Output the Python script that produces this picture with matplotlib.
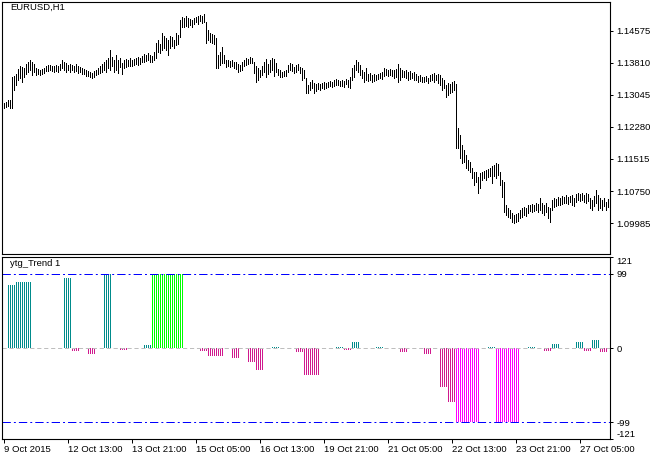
import matplotlib
matplotlib.use("Agg")
import matplotlib.pyplot as plt
import numpy as np

plt.rcParams['font.family'] = ['Liberation Sans', 'DejaVu Sans']
plt.rcParams['lines.scale_dashes'] = False

# EURUSD H1 bars (high / low), first bar 9 Oct 2015 05:00
highs = [
    1.1285, 1.1288, 1.1293, 1.1293, 1.1348, 1.1350, 1.1355, 1.1367, 1.1374, 1.1371,
    1.1369, 1.1379, 1.1383, 1.1388, 1.1383, 1.1379, 1.1369, 1.1367, 1.1364, 1.1367,
    1.1369, 1.1374, 1.1376, 1.1376, 1.1374, 1.1374, 1.1376, 1.1374, 1.1379, 1.1388,
    1.1383, 1.1381, 1.1376, 1.1379, 1.1376, 1.1374, 1.1379, 1.1374, 1.1371, 1.1369,
    1.1367, 1.1364, 1.1362, 1.1360, 1.1357, 1.1362, 1.1364, 1.1369, 1.1374, 1.1379,
    1.1383, 1.1388, 1.1393, 1.1412, 1.1395, 1.1388, 1.1400, 1.1388, 1.1393, 1.1381,
    1.1388, 1.1391, 1.1388, 1.1393, 1.1388, 1.1391, 1.1393, 1.1395, 1.1393, 1.1398,
    1.1403, 1.1400, 1.1405, 1.1400, 1.1398, 1.1407, 1.1429, 1.1436, 1.1426, 1.1453,
    1.1446, 1.1441, 1.1436, 1.1446, 1.1443, 1.1436, 1.1453, 1.1448, 1.1484, 1.1491,
    1.1489, 1.1493, 1.1489, 1.1486, 1.1484, 1.1489, 1.1491, 1.1493, 1.1496, 1.1493,
    1.1498, 1.1479, 1.1460, 1.1453, 1.1450, 1.1448, 1.1441, 1.1400, 1.1407, 1.1419,
    1.1400, 1.1388, 1.1388, 1.1386, 1.1388, 1.1383, 1.1383, 1.1379, 1.1376, 1.1383,
    1.1388, 1.1393, 1.1391, 1.1395, 1.1393, 1.1383, 1.1374, 1.1369, 1.1364, 1.1374,
    1.1383, 1.1391, 1.1379, 1.1388, 1.1393, 1.1391, 1.1381, 1.1367, 1.1364, 1.1360,
    1.1362, 1.1364, 1.1376, 1.1381, 1.1379, 1.1371, 1.1376, 1.1379, 1.1371, 1.1369,
    1.1364, 1.1345, 1.1328, 1.1336, 1.1340, 1.1333, 1.1331, 1.1333, 1.1331, 1.1333,
    1.1336, 1.1333, 1.1336, 1.1338, 1.1336, 1.1340, 1.1343, 1.1340, 1.1338, 1.1340,
    1.1338, 1.1343, 1.1340, 1.1348, 1.1369, 1.1376, 1.1388, 1.1383, 1.1376, 1.1364,
    1.1360, 1.1369, 1.1355, 1.1357, 1.1352, 1.1355, 1.1352, 1.1355, 1.1357, 1.1360,
    1.1369, 1.1367, 1.1364, 1.1367, 1.1364, 1.1364, 1.1367, 1.1379, 1.1369, 1.1364,
    1.1362, 1.1364, 1.1360, 1.1362, 1.1357, 1.1360, 1.1355, 1.1350, 1.1352, 1.1348,
    1.1348, 1.1350, 1.1345, 1.1352, 1.1355, 1.1357, 1.1352, 1.1355, 1.1352, 1.1345,
    1.1340, 1.1328, 1.1333, 1.1331, 1.1336, 1.1338, 1.1331, 1.1226, 1.1209, 1.1185,
    1.1173, 1.1161, 1.1149, 1.1144, 1.1130, 1.1120, 1.1120, 1.1108, 1.1118, 1.1120,
    1.1123, 1.1125, 1.1128, 1.1130, 1.1135, 1.1137, 1.1142, 1.1140, 1.1120, 1.1101,
    1.1097, 1.1042, 1.1034, 1.1030, 1.1022, 1.1018, 1.1020, 1.1022, 1.1030, 1.1034,
    1.1037, 1.1034, 1.1042, 1.1042, 1.1044, 1.1042, 1.1046, 1.1044, 1.1058, 1.1046,
    1.1042, 1.1046, 1.1037, 1.1034, 1.1054, 1.1058, 1.1056, 1.1061, 1.1058, 1.1063,
    1.1061, 1.1065, 1.1061, 1.1063, 1.1065, 1.1058, 1.1068, 1.1070, 1.1068, 1.1070,
    1.1065, 1.1070, 1.1068, 1.1058, 1.1054, 1.1063, 1.1077, 1.1065, 1.1058, 1.1054,
    1.1058, 1.1049, 1.1056,
]
lows = [
    1.1273, 1.1276, 1.1278, 1.1273, 1.1273, 1.1316, 1.1328, 1.1340, 1.1345, 1.1336,
    1.1348, 1.1355, 1.1360, 1.1364, 1.1352, 1.1360, 1.1352, 1.1355, 1.1352, 1.1355,
    1.1357, 1.1362, 1.1362, 1.1364, 1.1362, 1.1360, 1.1362, 1.1360, 1.1364, 1.1369,
    1.1364, 1.1360, 1.1364, 1.1360, 1.1364, 1.1360, 1.1362, 1.1357, 1.1360, 1.1355,
    1.1355, 1.1350, 1.1350, 1.1348, 1.1345, 1.1348, 1.1352, 1.1355, 1.1357, 1.1360,
    1.1364, 1.1360, 1.1369, 1.1364, 1.1374, 1.1360, 1.1364, 1.1357, 1.1371, 1.1355,
    1.1369, 1.1371, 1.1374, 1.1374, 1.1374, 1.1376, 1.1379, 1.1376, 1.1379, 1.1383,
    1.1383, 1.1386, 1.1388, 1.1383, 1.1383, 1.1388, 1.1393, 1.1407, 1.1405, 1.1412,
    1.1417, 1.1412, 1.1400, 1.1417, 1.1422, 1.1417, 1.1424, 1.1426, 1.1443, 1.1467,
    1.1467, 1.1469, 1.1467, 1.1472, 1.1467, 1.1474, 1.1479, 1.1474, 1.1481, 1.1477,
    1.1479, 1.1429, 1.1436, 1.1431, 1.1429, 1.1426, 1.1369, 1.1369, 1.1376, 1.1381,
    1.1381, 1.1371, 1.1374, 1.1371, 1.1374, 1.1369, 1.1367, 1.1360, 1.1362, 1.1364,
    1.1374, 1.1376, 1.1379, 1.1381, 1.1381, 1.1357, 1.1336, 1.1340, 1.1348, 1.1352,
    1.1360, 1.1348, 1.1355, 1.1360, 1.1364, 1.1350, 1.1360, 1.1352, 1.1348, 1.1348,
    1.1350, 1.1350, 1.1360, 1.1364, 1.1362, 1.1357, 1.1360, 1.1364, 1.1357, 1.1340,
    1.1345, 1.1309, 1.1309, 1.1316, 1.1321, 1.1309, 1.1314, 1.1319, 1.1316, 1.1321,
    1.1319, 1.1321, 1.1324, 1.1326, 1.1324, 1.1326, 1.1328, 1.1328, 1.1326, 1.1326,
    1.1324, 1.1331, 1.1324, 1.1321, 1.1340, 1.1348, 1.1364, 1.1360, 1.1352, 1.1345,
    1.1336, 1.1340, 1.1338, 1.1340, 1.1336, 1.1338, 1.1340, 1.1343, 1.1345, 1.1343,
    1.1350, 1.1352, 1.1350, 1.1352, 1.1350, 1.1345, 1.1348, 1.1336, 1.1340, 1.1348,
    1.1348, 1.1345, 1.1340, 1.1343, 1.1345, 1.1340, 1.1340, 1.1336, 1.1338, 1.1336,
    1.1336, 1.1338, 1.1333, 1.1338, 1.1340, 1.1336, 1.1340, 1.1333, 1.1328, 1.1316,
    1.1321, 1.1300, 1.1305, 1.1309, 1.1312, 1.1316, 1.1178, 1.1178, 1.1154, 1.1142,
    1.1144, 1.1130, 1.1125, 1.1120, 1.1106, 1.1089, 1.1097, 1.1070, 1.1082, 1.1101,
    1.1106, 1.1101, 1.1108, 1.1111, 1.1094, 1.1111, 1.1106, 1.1113, 1.1089, 1.1061,
    1.1025, 1.1018, 1.1013, 1.1010, 1.1001, 1.0999, 1.1001, 1.1003, 1.1010, 1.1013,
    1.1018, 1.1015, 1.1022, 1.1027, 1.1025, 1.1027, 1.1030, 1.1025, 1.1030, 1.1022,
    1.1018, 1.1025, 1.1010, 1.1001, 1.1030, 1.1037, 1.1039, 1.1042, 1.1042, 1.1044,
    1.1046, 1.1046, 1.1044, 1.1049, 1.1042, 1.1039, 1.1049, 1.1054, 1.1051, 1.1054,
    1.1049, 1.1046, 1.1051, 1.1034, 1.1030, 1.1039, 1.1046, 1.1030, 1.1034, 1.1030,
    1.1039, 1.1030, 1.1037,
]

# ytg_Trend values, one per H4 block (first block 2 bars, then 4 bars each, last bar empty)
trend_blocks = [
    0, 84, 88, 88, 0, 0, 0, 0, 93, -4,
    0, -8, 0, 98, 0, -2, 0, 0, 4, 99,
    99, 99, 99, 0, 0, -4, -10, -10, 0, -13,
    0, -18, -29, 0, 1.5, 0, 0, -5, -36, -36,
    0, 0, 1.5, -2, 7.5, 0, 0, 1.5, 0, 0,
    -5, 0, 0, -8, 0, -52, -72, -99, -99, -99,
    0, 1.5, -99, -99, -99, 0, 1.5, 0, -3.5, 5,
    0, 0, 8, -3.5, 10.5, -5, 0,
]
block_len = [2] + [4] * (len(trend_blocks) - 2) + [1]

price_ticks = [1.14575, 1.13810, 1.13045, 1.12280, 1.11515, 1.10750, 1.09985]
level_ticks = [121, 99, 0, -99, -121]
time_labels = ['9 Oct 2015', '12 Oct 13:00', '13 Oct 21:00', '15 Oct 05:00',
               '16 Oct 13:00', '19 Oct 21:00', '21 Oct 05:00', '22 Oct 13:00',
               '23 Oct 21:00', '27 Oct 05:00']

n = len(highs)
x = np.arange(n)
trend = np.repeat(trend_blocks, block_len)

W, H = 662, 459
fig = plt.figure(figsize=(W / 100, H / 100), dpi=100)
ax = fig.add_axes([2 / W, 1 - 254 / H, 608 / W, 252 / H])
ax2 = fig.add_axes([2 / W, 1 - 439 / H, 608 / W, 182 / H])

fs = 6.8
px = 0.72  # one pixel in points

# price pane
ax.vlines(x, lows, highs, color='black', lw=px, antialiased=False)
ax.set_xlim(-1, 303)
ax.set_ylim(1.09244, 1.15268)
ax.set_xticks([])
ax.yaxis.tick_right()
ax.set_yticks(price_ticks)
ax.set_yticklabels([f'{p:.5f}' for p in price_ticks])
ax.tick_params(axis='y', direction='out', length=2.5, width=px, pad=2, labelsize=fs)
for s in ax.spines.values():
    s.set_linewidth(0.8)
ax.text(3, 1.15268 - 0.0003, 'EURUSD,H1', fontsize=fs, va='top', ha='left')

# indicator pane
cols = []
for v in trend:
    if v >= 99:
        cols.append('#00FF00')
    elif v > 0:
        cols.append('#008B8B')
    elif v <= -99:
        cols.append('#FF00FF')
    else:
        cols.append('#D0198E')
ax2.axhline(0, color='#BEBEBE', lw=px, ls=(0, (3, 2)))
ax2.bar(x, trend, width=0.5, color=cols, linewidth=0, antialiased=False)
ax2.axhline(99, color='#0000FF', lw=px, ls=(0, (6, 2.2, 1.4, 2.2)))
ax2.axhline(-99, color='#0000FF', lw=px, ls=(0, (6, 2.2, 1.4, 2.2)))
ax2.set_xlim(-1, 303)
ax2.set_ylim(-121, 121)
ax2.yaxis.tick_right()
ax2.set_yticks(level_ticks)
ax2.set_yticklabels([str(v) for v in level_ticks])
ax2.tick_params(axis='y', direction='out', length=2.5, width=px, pad=2, labelsize=fs)
ylabs = ax2.get_yticklabels()
ylabs[0].set_va('top')
ylabs[-1].set_va('bottom')
ax2.set_xticks(np.arange(len(time_labels)) * 32)
ax2.set_xticklabels(time_labels)
ax2.tick_params(axis='x', direction='out', length=3, width=px, pad=1.5, labelsize=fs)
for lab in ax2.get_xticklabels():
    lab.set_ha('left')
for s in ax2.spines.values():
    s.set_linewidth(0.8)
ax2.text(3, 118, 'ytg_Trend 1', fontsize=fs, va='top', ha='left')

fig.savefig('out.png', dpi=100)
